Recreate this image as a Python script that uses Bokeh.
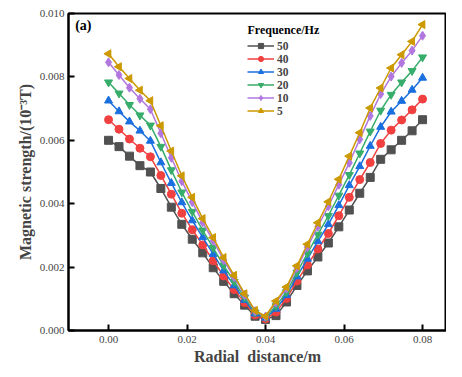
import numpy as np
from bokeh.plotting import figure
from bokeh.models import FixedTicker, NumeralTickFormatter, Legend, LegendItem, Label, Range1d
from bokeh.embed import file_html
from bokeh.resources import INLINE

radial = [i * 0.08 / 30 for i in range(31)]

f50 = [0.0060, 0.0058, 0.0055, 0.0052, 0.0050, 0.00448, 0.00389, 0.00335, 0.00288, 0.00245,
       0.00198, 0.00155, 0.00116, 0.0008, 0.00045, 0.00035, 0.00047, 0.0009, 0.00142, 0.00188,
       0.00232, 0.00276, 0.00327, 0.0038, 0.00433, 0.00483, 0.0054, 0.0057, 0.0060, 0.0063, 0.00665]
f40 = [0.00665, 0.00635, 0.00604, 0.00575, 0.00548, 0.00489, 0.0043, 0.0037, 0.00318, 0.0027,
       0.0022, 0.00172, 0.00129, 0.00088, 0.00049, 0.00037, 0.00058, 0.00101, 0.00156, 0.00207,
       0.00257, 0.00306, 0.00362, 0.0042, 0.00476, 0.0053, 0.0059, 0.00632, 0.00664, 0.00696, 0.0073]
f30 = [0.00725, 0.00691, 0.00659, 0.0063, 0.00598, 0.0053, 0.00465, 0.00404, 0.00347, 0.00294,
       0.00241, 0.00189, 0.00142, 0.00096, 0.00053, 0.0004, 0.00068, 0.00111, 0.0017, 0.00226,
       0.00281, 0.00335, 0.00395, 0.00458, 0.00518, 0.00582, 0.00642, 0.0069, 0.00724, 0.00759, 0.00797]
f20 = [0.00783, 0.00748, 0.00712, 0.00679, 0.00647, 0.0058, 0.00506, 0.00436, 0.00375, 0.00316,
       0.00261, 0.00205, 0.00154, 0.00104, 0.00057, 0.00042, 0.00077, 0.00121, 0.00183, 0.00243,
       0.00303, 0.00362, 0.00426, 0.00491, 0.00559, 0.00628, 0.00694, 0.00744, 0.00783, 0.00819, 0.00862]
f10 = [0.00846, 0.00806, 0.00766, 0.00731, 0.00698, 0.00622, 0.00545, 0.00471, 0.00405, 0.00341,
       0.00283, 0.00222, 0.00168, 0.00112, 0.00061, 0.00044, 0.00088, 0.00132, 0.00197, 0.00263,
       0.00328, 0.00392, 0.0046, 0.00529, 0.00603, 0.00677, 0.00746, 0.00801, 0.00844, 0.00883, 0.0093]
f5 = [0.00873, 0.00832, 0.00795, 0.00758, 0.00725, 0.00646, 0.00566, 0.00488, 0.0042, 0.00353,
      0.00293, 0.0023, 0.00174, 0.00116, 0.00063, 0.00045, 0.00093, 0.00137, 0.00204, 0.00272,
      0.0034, 0.00406, 0.00477, 0.0055, 0.00624, 0.00702, 0.00765, 0.00828, 0.0087, 0.00912, 0.00965]

labels = ["50", "40", "30", "20", "10", "5"]
series = [f50, f40, f30, f20, f10, f5]
colors = ["#515151", "#F14040", "#1A6FDF", "#37AD6B", "#B177DE", "#CC9900"]
markers = ["square", "circle", "triangle", "inverted_triangle", "diamond", "triangle"]
angles = [0, 0, 0, 0, 0, np.pi / 2]
sizes = [8, 8, 8, 8, 9, 8]

x_ticks = [0.0, 0.02, 0.04, 0.06, 0.08]
y_ticks = [0.0, 0.002, 0.004, 0.006, 0.008, 0.010]

SERIF = "Liberation Serif"

p = figure(width=446, height=367, output_backend="svg", toolbar_location=None,
           x_range=Range1d(-0.0102, 0.0861), y_range=Range1d(0.0, 0.010),
           min_border_left=68, min_border_right=0, min_border_top=13, min_border_bottom=36)
p.background_fill_color = "white"
p.border_fill_color = "white"
p.grid.visible = False
p.outline_line_color = "black"
p.outline_line_width = 2

items = []
for lab, ys, c, m, a, s in zip(labels, series, colors, markers, angles, sizes):
    r1 = p.line(radial, ys, line_color=c, line_width=1.5)
    r2 = p.scatter(radial, ys, marker=m, size=s, angle=a, fill_color=c, line_color=c)
    items.append(LegendItem(label=lab, renderers=[r1, r2]))

legend = Legend(items=items, location=(177, 211),
                label_text_font=SERIF, label_text_font_style="bold",
                label_text_font_size="11.5px", glyph_width=27, glyph_height=13,
                label_height=13, label_standoff=3, spacing=0, padding=2, margin=0,
                background_fill_alpha=0, border_line_alpha=0)
p.add_layout(legend)

p.add_layout(Label(x=0.0354, y=0.00949, text="Frequence/Hz", text_baseline="middle",
                   text_font=SERIF, text_font_style="bold",
                   text_font_size="12px", text_color="black"))

for ax in (p.xaxis[0], p.yaxis[0]):
    ax.axis_line_width = 2
    ax.axis_line_color = "black"
    ax.major_tick_in = 6
    ax.major_tick_out = 0
    ax.major_tick_line_width = 2
    ax.minor_tick_line_color = None
    ax.major_label_text_font = SERIF
    ax.major_label_text_font_size = "11px"
    ax.major_label_text_color = "#444444"
    ax.axis_label_text_font = SERIF
    ax.axis_label_text_font_style = "bold"
    ax.axis_label_text_font_size = "16px"

p.xaxis.ticker = FixedTicker(ticks=x_ticks)
p.yaxis.ticker = FixedTicker(ticks=y_ticks)
p.xaxis.formatter = NumeralTickFormatter(format="0.00")
p.yaxis.formatter = NumeralTickFormatter(format="0.000")
p.xaxis.axis_label = "Radial\u00a0\u00a0distance/m"
p.yaxis.axis_label = "Magnetic strength/(10\u207b\u00b3T)"
p.xaxis.major_label_standoff = 5
p.yaxis.major_label_standoff = 4
p.xaxis.axis_label_standoff = 2
p.yaxis.axis_label_standoff = 3

p.add_layout(Label(x=-0.0085, y=0.00987, text="(a)", text_baseline="top",
                   text_font=SERIF, text_font_style="bold",
                   text_font_size="14px", text_color="black"))

open("out.html", "w").write(file_html(p, INLINE))
